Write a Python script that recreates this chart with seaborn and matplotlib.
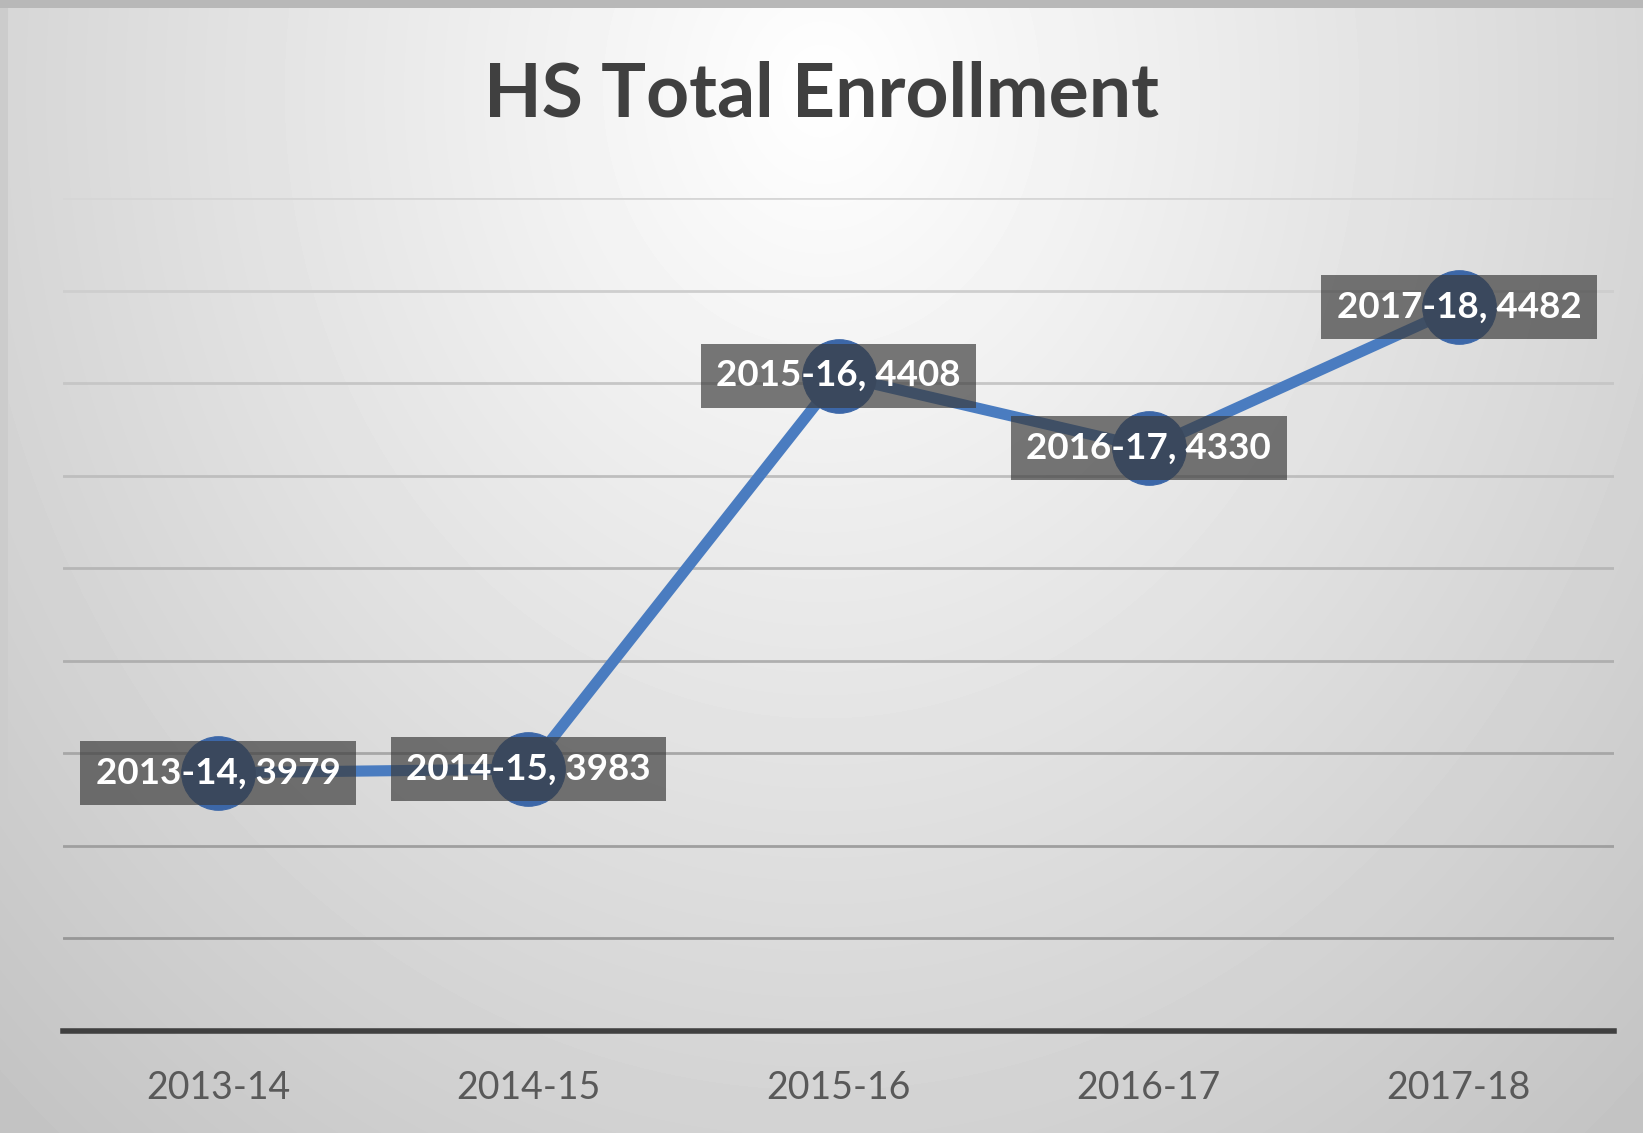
import numpy as np
import pandas as pd
import matplotlib
matplotlib.use("Agg")
import matplotlib.pyplot as plt
import seaborn as sns

years = ["2013-14", "2014-15", "2015-16", "2016-17", "2017-18"]
enrollment = [3979, 3983, 4408, 4330, 4482]
title = "HS Total Enrollment"

df = pd.DataFrame({"year": years, "enrollment": enrollment})

sns.set_theme(style="white")
plt.rcParams["font.family"] = ["Lato", "DejaVu Sans"]

W, H = 1643, 1133
fig = plt.figure(figsize=(W / 100, H / 100), dpi=100)

# background gradient
bg = fig.add_axes([0, 0, 1, 1], zorder=-10)
yy, xx = np.mgrid[0:H, 0:W]
dx = (xx - W * 0.5) / (W * 0.62)
dy = (yy - H * 0.08) / (H * 1.05)
r = np.sqrt(dx ** 2 + dy ** 2)
val = 1.0 - 0.20 * np.clip(r, 0, 1.2)
val[:8, :] = 0.72
val[:, :8] = np.minimum(val[:, :8], 0.80)
bg.imshow(val, cmap="gray", vmin=0, vmax=1, aspect="auto", interpolation="bilinear")
bg.axis("off")

ax = fig.add_axes([63 / W, 1 - 1031 / H, (1614 - 63) / W, (1031 - 198) / H])
ax.patch.set_alpha(0)

sns.lineplot(data=df, x="year", y="enrollment", ax=ax, color="#4a7cc0", linewidth=8,
             marker="o", markersize=53, markerfacecolor="#3c67a8", markeredgecolor="#3c67a8",
             sort=False, zorder=3)

ax.set_xlim(-0.5, len(years) - 0.5)
ax.set_ylim(3700, 4600)
ax.set_yticks(np.arange(3700, 4601, 100))
ax.yaxis.grid(True)
gl = ax.get_ygridlines()
n = len(gl)
for i, g in enumerate(gl):
    c = 0.84 - 0.28 * (1 - i / (n - 1))
    g.set_color((c, c, c))
    g.set_linewidth(2)
ax.set_yticklabels([])
ax.tick_params(axis="y", length=0)
ax.tick_params(axis="x", length=0, pad=28, labelsize=27, labelcolor="#595959")
ax.set_xlabel("")
ax.set_ylabel("")
for s in ["top", "right", "left"]:
    ax.spines[s].set_visible(False)
ax.spines["bottom"].set_color("#404040")
ax.spines["bottom"].set_linewidth(4)

for i, (yr, v) in enumerate(zip(years, enrollment)):
    ax.text(i, v, f"{yr}, {v}", ha="center", va="center", color="white",
            fontsize=26.5, fontweight="bold", zorder=5,
            bbox=dict(boxstyle="square,pad=0.42", facecolor="#3a3a3a", alpha=0.68, edgecolor="none"))

fig.text(0.5, 1 - 95 / H, title, ha="center", va="center", fontsize=54,
         fontweight="bold", color="#404040")

fig.savefig("out.png", dpi=100)
